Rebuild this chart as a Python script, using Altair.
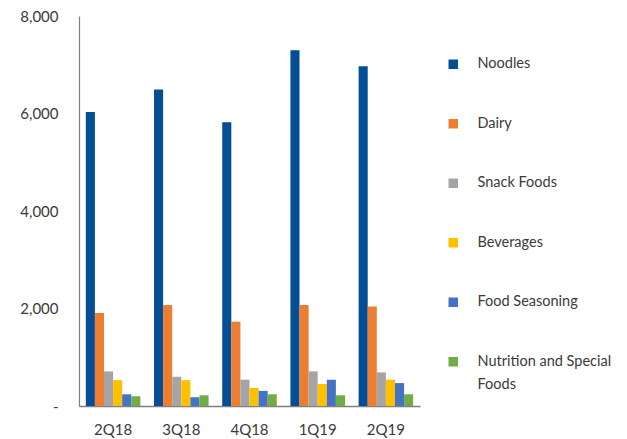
import altair as alt
import pandas as pd

quarters = ["2Q18", "3Q18", "4Q18", "1Q19", "2Q19"]
categories = ["Noodles", "Dairy", "Snack Foods", "Beverages", "Food Seasoning",
              "Nutrition and Special Foods"]
noodles = [6030, 6490, 5820, 7300, 6970]
dairy = [1910, 2070, 1730, 2070, 2040]
snack_foods = [710, 600, 540, 710, 690]
beverages = [530, 530, 370, 450, 540]
food_seasoning = [240, 180, 310, 540, 470]
nutrition = [200, 220, 240, 220, 240]
colors = ["#034E94", "#ED7D31", "#A5A5A5", "#FFC000", "#4472C4", "#70AD47"]

series = [noodles, dairy, snack_foods, beverages, food_seasoning, nutrition]
rows = []
for cat, vals in zip(categories, series):
    for q, v in zip(quarters, vals):
        rows.append({"quarter": q, "category": cat, "value": v})
df = pd.DataFrame(rows)

FONT = "Lato"
TXT = "#3a3a3a"
AXC = "#7f7f7f"

label_expr = (
    "datum.label == 'Nutrition and Special Foods' ? "
    "['Nutrition and Special', 'Foods'] : datum.label"
)

chart = alt.Chart(df).mark_bar().encode(
    x=alt.X("quarter:N", sort=quarters,
            scale=alt.Scale(paddingInner=0.2, paddingOuter=0.1),
            axis=alt.Axis(title=None, labelAngle=0, ticks=False, domainColor=AXC,
                          domainWidth=1.5, labelFontSize=15, labelPadding=16,
                          labelColor=TXT, labelFont=FONT)),
    xOffset=alt.XOffset("category:N", sort=categories,
                        scale=alt.Scale(paddingInner=0, paddingOuter=0)),
    y=alt.Y("value:Q", scale=alt.Scale(domain=[0, 8000], nice=False),
            axis=alt.Axis(title=None, values=[0, 2000, 4000, 6000, 8000],
                          labelExpr="datum.value == 0 ? '-' : format(datum.value, ',')",
                          grid=False, ticks=False, domainColor=AXC, domainWidth=1.2,
                          labelFontSize=15, labelPadding=21, labelColor=TXT,
                          labelFont=FONT)),
    color=alt.Color("category:N", sort=categories,
                    scale=alt.Scale(domain=categories, range=colors),
                    legend=alt.Legend(title=None, orient="none", legendX=367, legendY=41,
                                      symbolType="square", symbolSize=90,
                                      symbolStrokeWidth=0, labelFontSize=14.5,
                                      labelFont=FONT, labelColor=TXT, labelOffset=17,
                                      rowPadding=44.5, labelLimit=220,
                                      labelExpr=label_expr)),
).properties(
    width=341, height=390,
    padding={"left": 79, "top": 16, "right": 207, "bottom": 33},
    autosize="none",
).configure(
    style={"guide-label": {"lineHeight": 23}}
).configure_view(stroke=None)

chart.save("out.html", embed_options={"renderer": "svg", "actions": False})
